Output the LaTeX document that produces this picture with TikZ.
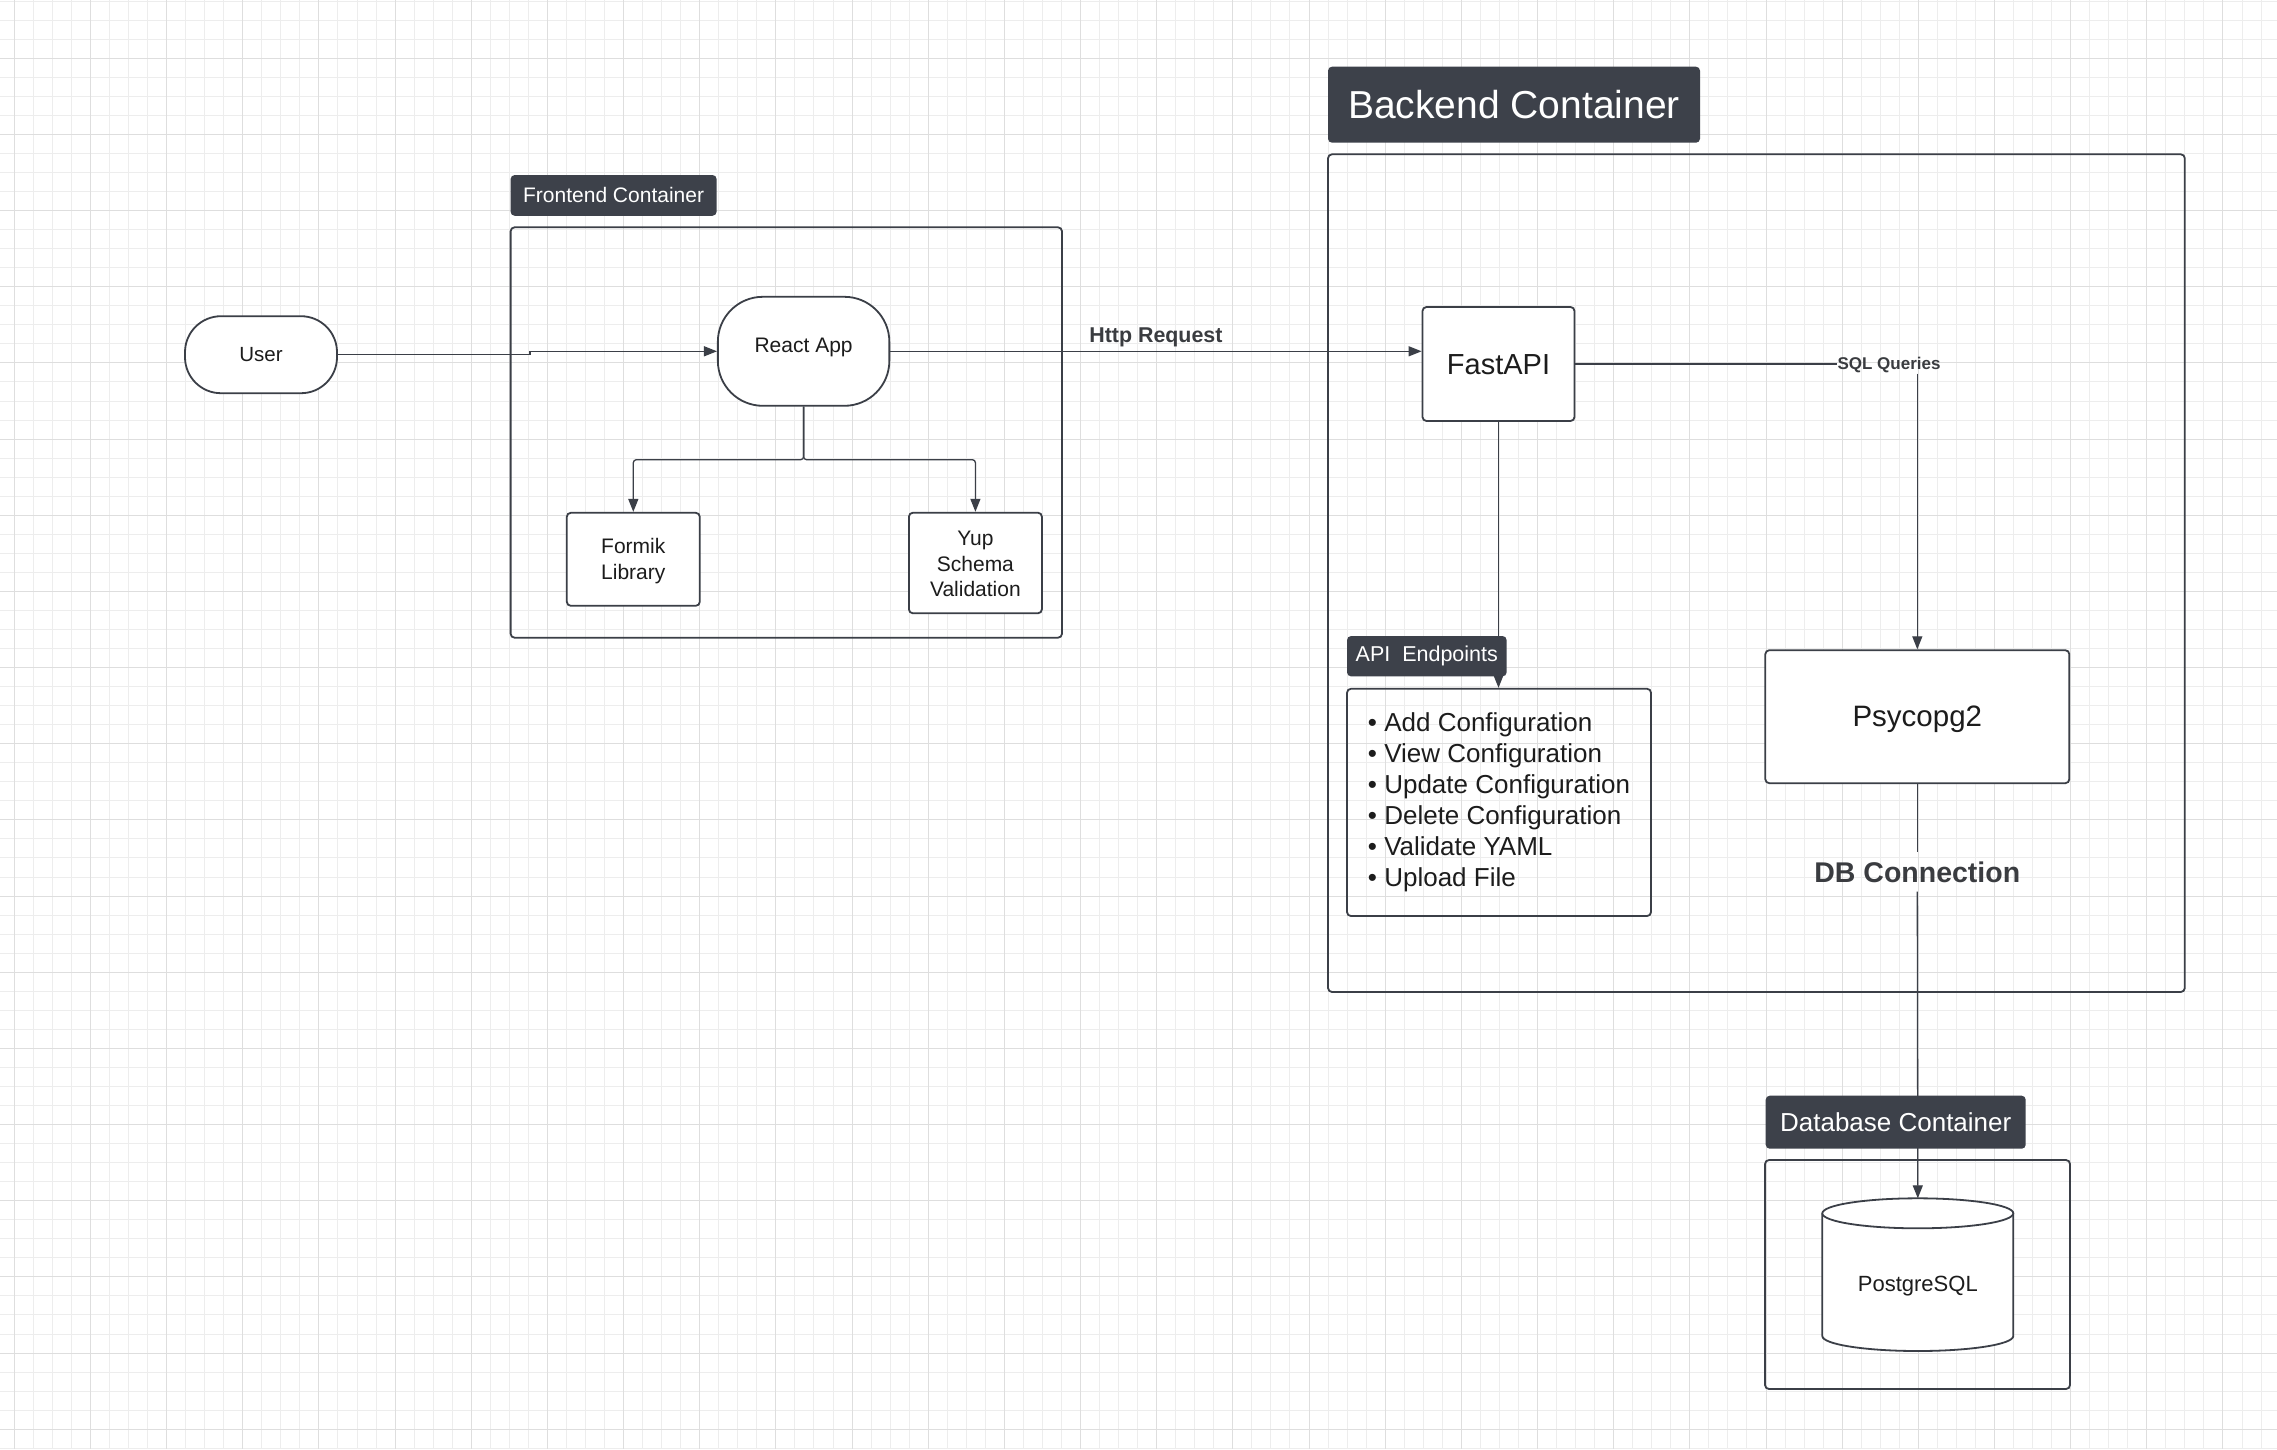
\documentclass[tikz,border=0pt]{standalone}
\usepackage{fontspec}
\setmainfont{Liberation Sans}
\usetikzlibrary{arrows.meta}

\definecolor{ink}{HTML}{3B3F47}
\definecolor{tagfill}{HTML}{3D414A}
\definecolor{gridlo}{HTML}{EDEDED}
\definecolor{gridhi}{HTML}{DEDEDE}
\definecolor{txt}{HTML}{1C1C1C}
\definecolor{lbltxt}{HTML}{3A3C40}

\newcommand{\fsz}[2]{\fontsize{#1}{#2}\selectfont}
\newcommand{\stacked}[1]{\begin{tabular}{@{}c@{}}#1\end{tabular}}
\newcommand{\nudge}[2]{\raisebox{#1}[\height][\depth]{#2}}

\tikzset{
  box/.style={draw=ink, line width=1.8pt, rounded corners=4pt, fill=white, text=txt, align=center, inner sep=0pt},
  frame/.style={draw=ink, line width=1.8pt, rounded corners=4pt},
  tag/.style={fill=tagfill, rounded corners=4pt, text=white, inner sep=0pt},
  link/.style={draw=ink, line width=1.3pt},
  arr/.style={link, -{Triangle[length=13pt,width=10pt]}},
  lbl/.style={text=lbltxt, font=\bfseries, inner sep=0pt},
}

\begin{document}
\begin{tikzpicture}[x=1pt,y=-1pt]
    \useasboundingbox (0,0) rectangle (2277,1449);
    \fill[white] (0,0) rectangle (2277,1449);

    % background grid
    \foreach \i in {-1,...,119}
        \draw[gridlo, line width=1pt] ({14.3+19.04*\i},0) -- ++(0,1449);
    \foreach \j in {-3,...,73}
        \draw[gridlo, line width=1pt] (0,{58.3+19.04*\j}) -- ++(2277,0);
    \foreach \i in {0,...,29}
        \draw[gridhi, line width=1pt] ({14.3+76.16*\i},0) -- ++(0,1449);
    \foreach \j in {0,...,18}
        \draw[gridhi, line width=1pt] (0,{58.3+76.16*\j}) -- ++(2277,0);

    % containers
    \draw[frame] (510.6,227.3) rectangle (1062,637.7);
    \draw[frame] (1328,154.3) rectangle (2184.8,992);
    \draw[frame] (1765,1160) rectangle (2070,1389);

    % nodes
    \node[box, rounded corners=36pt, minimum width=152pt, minimum height=77pt, font=\fsz{20.5}{24}] (user) at (261,354.7) {User};
    \node[box, rounded corners=45pt, minimum width=171.5pt, minimum height=109pt, font=\fsz{21}{25}] (react) at (803.6,351.3) {\nudge{4pt}{React App}};
    \node[box, minimum width=133pt, minimum height=93pt, font=\fsz{21}{25.5}] (formik) at (633.3,559.3) {\nudge{-2pt}{\stacked{Formik\\Library}}};
    \node[box, minimum width=133pt, minimum height=100.6pt, font=\fsz{21}{25.5}] (yup) at (975.4,563) {\nudge{-3pt}{\stacked{Yup\\Schema\\Validation}}};

    \node[box, minimum width=152pt, minimum height=114pt, font=\fsz{29}{34}] (fastapi) at (1498.5,364) {\nudge{-1pt}{FastAPI}};
    \node[box, fill=none, minimum width=304pt, minimum height=227.3pt, align=left, font=\fsz{26}{31}] (api) at (1499,802.4)
        {\textbullet\ Add Configuration\\\textbullet\ View Configuration\\\textbullet\ Update Configuration\\\textbullet\ Delete Configuration\\\textbullet\ Validate YAML\\\textbullet\ Upload File};
    \node[box, minimum width=304pt, minimum height=133pt, font=\fsz{29.5}{34}] (psy) at (1917.3,716.7) {\nudge{-3pt}{Psycopg2}};

    % database cylinder
    \coordinate (pgtop) at (1917.8,1198.3);
    \filldraw[fill=white, draw=ink, line width=1.8pt] (1822.3,1213.3) -- (1822.3,1336) arc (180:360:95.5pt and 15pt) -- (2013.3,1213.3);
    \filldraw[fill=white, draw=ink, line width=1.8pt] (1917.8,1213.3) ellipse (95.5 and 15);
    \node[text=txt, font=\fsz{22}{26}, inner sep=0pt] (pg) at (1917.8,1286) {PostgreSQL};

    % connectors
    \draw[arr] (user.east) -- ++(192.1,0) |- (react.west);
    \draw[arr, rounded corners=3pt] (react.south) -- ++(0,53) -| (formik.north);
    \draw[arr, rounded corners=3pt] (react.south) -- ++(0,53) -| (yup.north);
    \draw[arr] (react.east) -- (react.east -| fastapi.west)
        node[lbl, midway, above=4pt, font=\bfseries\fsz{21.4}{25}] (http) {Http Request};
    \draw[arr] (fastapi.south) -- (fastapi.south |- api.north);

    \node[lbl, font=\bfseries\fsz{17}{20}] (sql) at (1889,365.5) {SQL Queries};
    \draw[link] (fastapi.east) -- (fastapi.east -| sql.west);
    \draw[arr] (sql.south -| psy.north) -- (psy.north);

    \node[lbl, inner ysep=9pt, font=\bfseries\fsz{28.5}{33}] (dbc) at (1917.3,872) {DB Connection};
    \draw[link] (psy.south) -- (dbc.north);
    \draw[arr] (dbc.south) -- (pgtop);

    % container tags
    \node[tag, minimum width=206pt, minimum height=40.7pt, font=\fsz{21}{25}] (fronttag) at (613.6,195.4) {Frontend Container};
    \node[tag, minimum width=372pt, minimum height=76pt, font=\fsz{39}{45}] (backtag) at (1514,104.7) {Backend Container};
    \node[tag, minimum width=159.6pt, minimum height=40.3pt, font=\fsz{21.5}{25}] (apitag) at (1426.8,656.2) {API\ \ Endpoints};
    \node[tag, minimum width=260pt, minimum height=53pt, font=\fsz{26}{30}] (dbtag) at (1895.7,1122.2) {Database Container};
\end{tikzpicture}
\end{document}
